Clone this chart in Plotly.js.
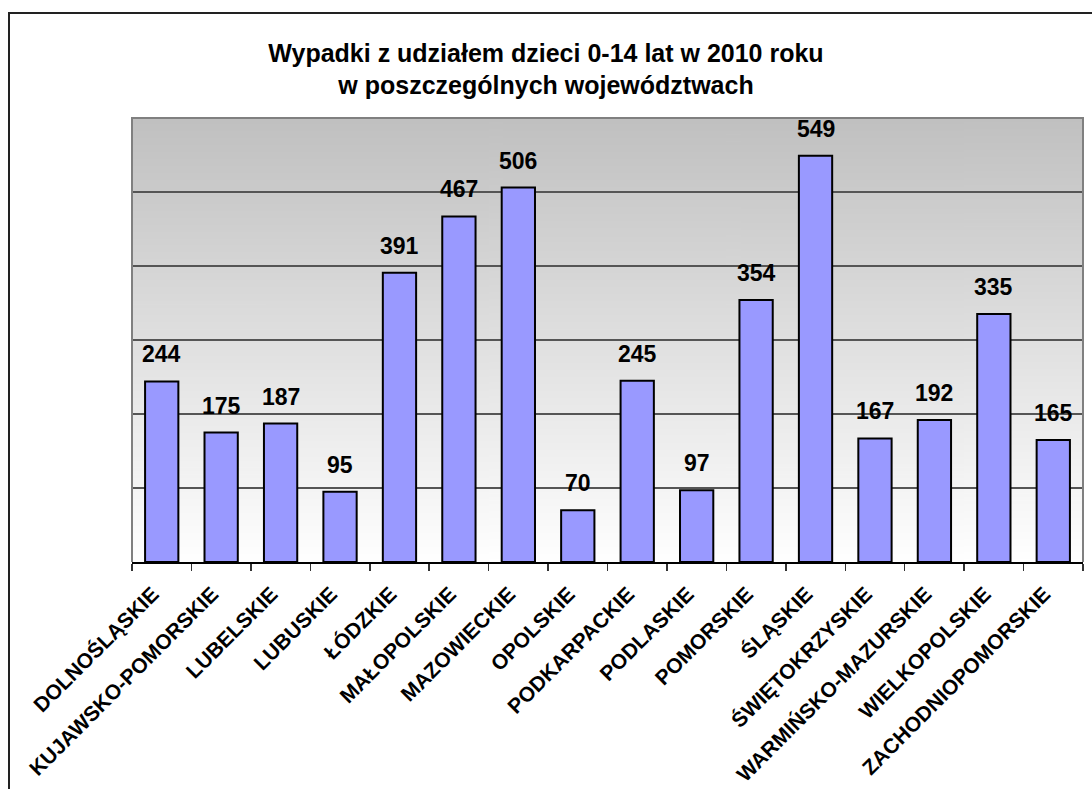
<!DOCTYPE html>
<html>
<head>
<meta charset="utf-8">
<script src="https://cdn.plot.ly/plotly-3.0.1.min.js"></script>
<style>
  html, body { margin: 0; padding: 0; background: #ffffff; overflow: hidden; }
  #wrap { position: relative; width: 1092px; height: 789px; overflow: hidden; }
  #chart { width: 1092px; height: 789px; }
  /* outer chart frame, runs off the right and bottom edges like the original */
  #frame {
    position: absolute; left: 8px; top: 12px;
    width: 1200px; height: 900px;
    border: 2px solid #222222;
    pointer-events: none;
  }
</style>
</head>
<body>
<div id="wrap">
  <div id="chart"></div>
  <div id="frame"></div>
</div>
<script>
// voivodeships and number of accidents with children 0-14 (2010)
const regions = [
    'DOLNOŚLĄSKIE', 'KUJAWSKO-POMORSKIE', 'LUBELSKIE', 'LUBUSKIE',
    'ŁÓDZKIE', 'MAŁOPOLSKIE', 'MAZOWIECKIE', 'OPOLSKIE',
    'PODKARPACKIE', 'PODLASKIE', 'POMORSKIE', 'ŚLĄSKIE',
    'ŚWIĘTOKRZYSKIE', 'WARMIŃSKO-MAZURSKIE', 'WIELKOPOLSKIE', 'ZACHODNIOPOMORSKIE'
];
const accidents = [244, 175, 187, 95, 391, 467, 506, 70, 245, 97, 354, 549, 167, 192, 335, 165];

const chartTitle = 'Wypadki z udziałem dzieci 0-14 lat w 2010 roku<br>w poszczególnych województwach';
const fontFamily = '"Liberation Sans", Arial, sans-serif';

// vertical grey gradient for the plot area (dark on top, white at bottom)
function makeGradient() {
    const c = document.createElement('canvas');
    c.width = 4;
    c.height = 256;
    const ctx = c.getContext('2d');
    const g = ctx.createLinearGradient(0, 0, 0, 256);
    g.addColorStop(0, '#c0c0c0');
    g.addColorStop(1, '#ffffff');
    ctx.fillStyle = g;
    ctx.fillRect(0, 0, 4, 256);
    return c.toDataURL('image/png');
}

const bars = {
    type: 'bar',
    x: regions,
    y: accidents,
    marker: {
        color: '#9999ff',
        line: { color: '#000000', width: 2 }
    },
    hoverinfo: 'x+y'
};

// value labels above each bar
const valueLabels = regions.map((r, i) => ({
    x: r,
    y: accidents[i],
    text: String(accidents[i]),
    showarrow: false,
    xanchor: 'center',
    yanchor: 'bottom',
    yshift: 12,
    font: { family: fontFamily, size: 23, color: '#000000', weight: 'bold' }
}));

const layout = {
    width: 1092,
    height: 789,
    margin: { l: 132, r: 9, t: 118, b: 227 },
    paper_bgcolor: '#ffffff',
    plot_bgcolor: '#ffffff',
    font: { family: fontFamily, color: '#000000' },
    showlegend: false,
    bargap: 0.44,
    title: {
        text: chartTitle,
        x: 0.5,
        xref: 'container',
        xanchor: 'center',
        y: 0.922,
        yref: 'container',
        yanchor: 'top',
        font: { family: fontFamily, size: 25, color: '#000000', weight: 'bold' }
    },
    xaxis: {
        type: 'category',
        showgrid: false,
        showline: true,
        linecolor: '#000000',
        linewidth: 1.5,
        ticks: 'outside',
        tickson: 'boundaries',
        ticklen: 7,
        tickwidth: 1.5,
        tickcolor: '#333333',
        tickangle: -45,
        ticklabelstandoff: 10,
        ticklabelshift: -9,
        tickfont: { family: fontFamily, size: 21, color: '#000000', weight: 'bold' },
        fixedrange: true
    },
    yaxis: {
        range: [0, 600],
        dtick: 100,
        showgrid: true,
        gridcolor: '#555555',
        gridwidth: 1.5,
        zeroline: false,
        showline: false,
        showticklabels: false,
        ticks: '',
        fixedrange: true
    },
    images: [{
        source: makeGradient(),
        xref: 'x domain',
        yref: 'y domain',
        x: 0,
        y: 1,
        sizex: 1,
        sizey: 1,
        sizing: 'stretch',
        xanchor: 'left',
        yanchor: 'top',
        layer: 'below'
    }],
    shapes: [
        // grey frame on left, top and right of plot area
        {
            type: 'path',
            xref: 'paper',
            yref: 'paper',
            path: 'M0,0 L0,1 L1,1 L1,0',
            line: { color: '#808080', width: 2 },
            layer: 'above'
        }
    ],
    annotations: valueLabels
};

Plotly.newPlot('chart', [bars], layout, { displayModeBar: false, staticPlot: true });
</script>
</body>
</html>
